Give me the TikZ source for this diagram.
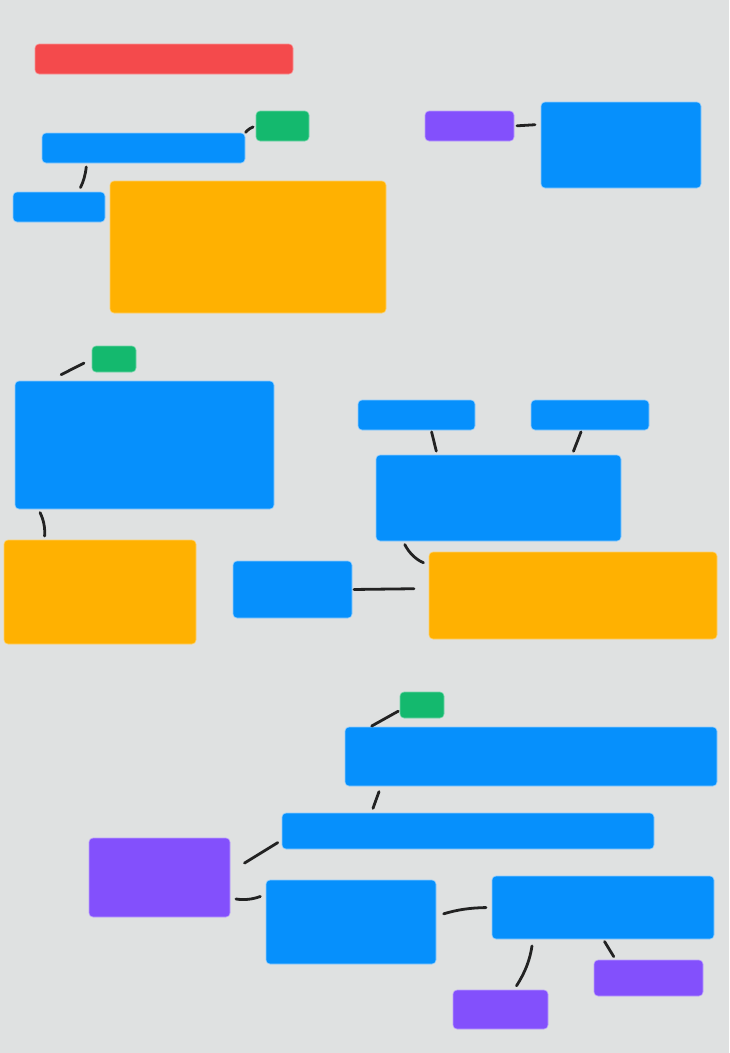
\documentclass[tikz,border=0pt]{standalone}
\usepackage{xcolor}
\usepackage{tikz}
\usetikzlibrary{positioning,calc,backgrounds}
\definecolor{cRed}{HTML}{F44A4C}
\definecolor{cBlue}{HTML}{0690FC}
\definecolor{cOrange}{HTML}{FFB101}
\definecolor{cGreen}{HTML}{14B96E}
\definecolor{cPurple}{HTML}{8350FC}
\definecolor{paper}{HTML}{DFE1E1}
\definecolor{ink}{HTML}{222222}
\tikzset{
  box/.style={rounded corners=4pt, inner sep=0pt, outer sep=0pt, anchor=north west, line width=0.6pt},
  sz/.style 2 args={minimum width=#1pt, minimum height=#2pt},
  headbox/.style={box, fill=cRed, draw=cRed!60!white},
  corebox/.style={box, fill=cBlue, draw=cBlue!45!white},
  hibox/.style={box, fill=cOrange, draw=cOrange!60!white},
  tagbox/.style={box, fill=cGreen, draw=cGreen!60!white},
  asidebox/.style={box, fill=cPurple, draw=cPurple!55!white},
  link/.style={draw=ink, line width=2.8pt, line cap=round},
}

\begin{document}
\begin{tikzpicture}[x=1pt, y=-1pt]
  \useasboundingbox[fill=paper] (0,0) rectangle (729,1053);

  % upper left group
  \node[headbox, sz={258}{30}] (title) at (35,44) {};
  \node[corebox, sz={203}{30}] (bar) at (42,133) {};
  \node[tagbox, sz={53}{30}] (tagA) at (256,111) {};
  \node[corebox, sz={92}{30}] (side) at (13,192) {};
  \node[hibox, sz={276}{132}] (note) at (110,181) {};

  % upper right group
  \node[asidebox, sz={89}{30}] (label) at (425,111) {};
  \node[corebox, sz={160}{86}] (panel) at (541,102) {};

  % middle group
  \node[tagbox, sz={44}{26}] (tagB) at (92,346) {};
  \node[corebox, sz={259}{128}] (main) at (15,381) {};
  \node[hibox, sz={192}{104}] (memo) at (4,540) {};
  \node[corebox, sz={117}{30}] (inL) at (358,400) {};
  \node[corebox, sz={118}{30}] (inR) at (531,400) {};
  \node[corebox, sz={245}{86}] (merge) at (376,455) {};
  \node[corebox, sz={119}{57}] (src) at (233,561) {};
  \node[hibox, sz={288}{87}] (result) at (429,552) {};

  % lower group
  \node[tagbox, sz={44}{26}] (tagC) at (400,692) {};
  \node[corebox, sz={372}{59}] (top) at (345,727) {};
  \node[corebox, sz={372}{36}] (mid) at (282,813) {};
  \node[asidebox, sz={141}{79}] (left) at (89,838) {};
  \node[corebox, sz={170}{84}] (stepA) at (266,880) {};
  \node[corebox, sz={222}{63}] (stepB) at (492,876) {};
  \node[asidebox, sz={109}{36}] (outR) at (594,960) {};
  \node[asidebox, sz={95}{39}] (outL) at (453,990) {};

  % connectors
  \draw[link, shorten <=1pt, shorten >=3pt] (bar.north east) to[bend left=15] (tagA.west);
  \draw[link, shorten <=4pt, shorten >=5pt] ($(bar.south west)!0.22!(bar.south east)$) to[bend left=10] ($(side.north west)!0.71!(side.north east)$);
  \draw[link, shorten <=3pt, shorten >=6pt] (label.east) -- ($(panel.north west)!0.26!(panel.south west)$);
  \draw[link, shorten <=9pt, shorten >=14pt] (tagB.west) -- ($(main.north west)!0.13!(main.north east)$);
  \draw[link, shorten <=4pt, shorten >=4pt] ($(main.south west)!0.09!(main.south east)$) to[bend left=15] ($(memo.north west)!0.21!(memo.north east)$);
  \draw[link, shorten <=2pt, shorten >=4pt] ($(inL.south west)!0.625!(inL.south east)$) -- ($(merge.north west)!0.25!(merge.north east)$);
  \draw[link, shorten <=2pt, shorten >=4pt] ($(inR.south west)!0.43!(inR.south east)$) -- ($(merge.north west)!0.8!(merge.north east)$);
  \draw[link, shorten <=4pt, shorten >=6pt] ($(merge.south west)!0.11!(merge.south east)$) to[bend right=20] ($(result.north west)!0.15!(result.south west)$);
  \draw[link, shorten <=2pt, shorten >=15pt] (src.east) -- ($(result.north west)!0.42!(result.south west)$);
  \draw[link, shorten <=2pt, shorten >=2pt] ($(tagC.north west)!0.7!(tagC.south west)$) -- ($(top.north west)!0.067!(top.north east)$);
  \draw[link, shorten <=6pt, shorten >=5pt] ($(top.south west)!0.097!(top.south east)$) -- ($(mid.north west)!0.24!(mid.north east)$);
  \draw[link, shorten <=5pt, shorten >=17pt] ($(mid.north west)!0.75!(mid.south west)$) -- ($(left.north east)!0.43!(left.south east)$);
  \draw[link, shorten <=6pt, shorten >=6pt] ($(left.north east)!0.76!(left.south east)$) to[bend right=15] ($(stepA.north west)!0.17!(stepA.south west)$);
  \draw[link, shorten <=8pt, shorten >=6pt] ($(stepA.north east)!0.43!(stepA.south east)$) to[bend left=8] (stepB.west);
  \draw[link, shorten <=7pt, shorten >=5pt] ($(stepB.south west)!0.185!(stepB.south east)$) to[bend left=12] ($(outL.north west)!0.64!(outL.north east)$);
  \draw[link, shorten <=3pt, shorten >=4pt] (stepB.south) -- ($(outR.north west)!0.2!(outR.north east)$);
\end{tikzpicture}
\end{document}
